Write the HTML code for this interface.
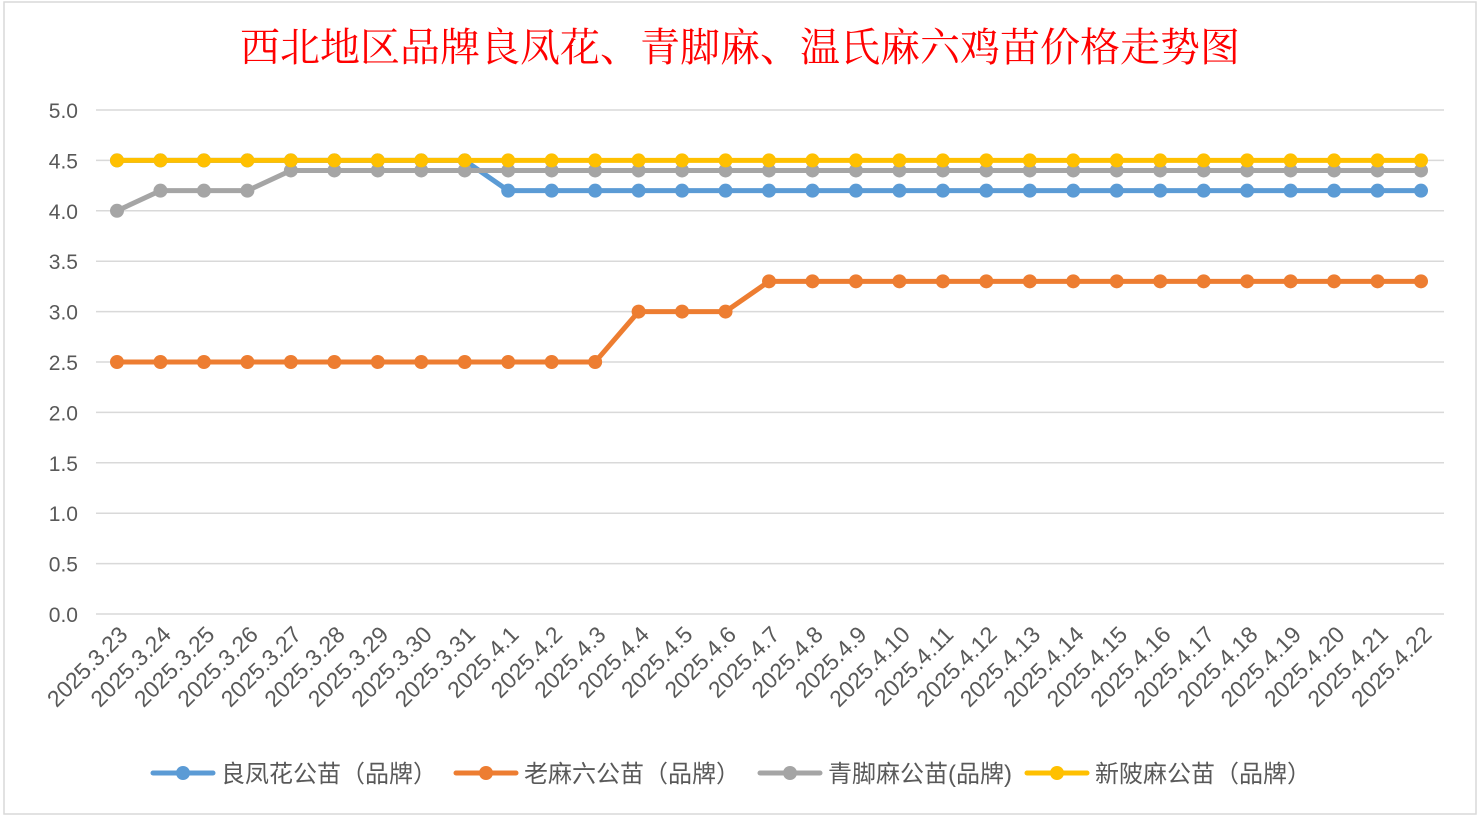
<!DOCTYPE html>
<html><head><meta charset="utf-8"><style>
body{margin:0;background:#fff;}
svg{display:block;font-family:"Liberation Sans","Noto Sans CJK SC",sans-serif;}
</style></head><body>
<svg id="c" width="1480" height="818">
<rect x="4" y="2" width="1472" height="812" fill="#fff" stroke="#d9d9d9" stroke-width="1.5"/>
<text x="740" y="61" text-anchor="middle" font-size="40" fill="#ff0000" font-family="'Noto Serif CJK SC',serif">西北地区品牌良凤花、青脚麻、温氏麻六鸡苗价格走势图</text>
<g id="grid"></g><g id="series"></g><g id="xl"></g>
<g id="legend"></g>
</svg>
<script>
const categories=["2025.3.23","2025.3.24","2025.3.25","2025.3.26","2025.3.27","2025.3.28","2025.3.29","2025.3.30","2025.3.31","2025.4.1","2025.4.2","2025.4.3","2025.4.4","2025.4.5","2025.4.6","2025.4.7","2025.4.8","2025.4.9","2025.4.10","2025.4.11","2025.4.12","2025.4.13","2025.4.14","2025.4.15","2025.4.16","2025.4.17","2025.4.18","2025.4.19","2025.4.20","2025.4.21","2025.4.22"];
const liangfenghua=[4.5,4.5,4.5,4.5,4.5,4.5,4.5,4.5,4.5,4.2,4.2,4.2,4.2,4.2,4.2,4.2,4.2,4.2,4.2,4.2,4.2,4.2,4.2,4.2,4.2,4.2,4.2,4.2,4.2,4.2,4.2];
const lamaliu=[2.5,2.5,2.5,2.5,2.5,2.5,2.5,2.5,2.5,2.5,2.5,2.5,3.0,3.0,3.0,3.3,3.3,3.3,3.3,3.3,3.3,3.3,3.3,3.3,3.3,3.3,3.3,3.3,3.3,3.3,3.3];
const qingjiaoma=[4.0,4.2,4.2,4.2,4.4,4.4,4.4,4.4,4.4,4.4,4.4,4.4,4.4,4.4,4.4,4.4,4.4,4.4,4.4,4.4,4.4,4.4,4.4,4.4,4.4,4.4,4.4,4.4,4.4,4.4,4.4];
const xinpima=[4.5,4.5,4.5,4.5,4.5,4.5,4.5,4.5,4.5,4.5,4.5,4.5,4.5,4.5,4.5,4.5,4.5,4.5,4.5,4.5,4.5,4.5,4.5,4.5,4.5,4.5,4.5,4.5,4.5,4.5,4.5];
const yTicks=["0.0","0.5","1.0","1.5","2.0","2.5","3.0","3.5","4.0","4.5","5.0"];
const seriesNames=["良凤花公苗（品牌）","老麻六公苗（品牌）","青脚麻公苗(品牌)","新陂麻公苗（品牌）"];
const NS="http://www.w3.org/2000/svg";
const X=i=>117+i*(1421-117)/(categories.length-1);
const Y=v=>614-v*(614-110)/5;
function mk(t,a,p){const e=document.createElementNS(NS,t);for(const k in a)e.setAttribute(k,a[k]);p.appendChild(e);return e;}
const g=document.getElementById('grid');
yTicks.forEach(t=>{const v=parseFloat(t);
 const l=mk('line',{x1:96,x2:1444,y1:Y(v),y2:Y(v),stroke:'#d9d9d9','stroke-width':1.5},g);
 
 
 const tx=mk('text',{x:78,y:Y(v)+8,'text-anchor':'end','font-size':21,fill:'#595959'},g);tx.textContent=t;
 
 
});
const xl=document.getElementById('xl');
categories.forEach((c,i)=>{const x=X(i)+12,y=636;
 const t=mk('text',{x:x,y:y,'text-anchor':'end','font-size':23,fill:'#595959',transform:`rotate(-45 ${x} ${y})`},xl);t.textContent=c;
 
 
});
const colors=["#5b9bd5","#ed7d31","#a5a5a5","#ffc000"];
const data=[liangfenghua,lamaliu,qingjiaoma,xinpima];
const order=[1,0,2,3];
const sg=document.getElementById('series');
order.forEach(k=>{const grp=mk('g',{},sg);
 
 
 const pts=data[k].map((v,i)=>X(i)+','+Y(v)).join(' ');
 mk('polyline',{points:pts,fill:'none',stroke:colors[k],'stroke-width':5,'stroke-linejoin':'round'},grp);
 data[k].forEach((v,i)=>{const c=mk('circle',{cx:X(i),cy:Y(v),r:7,fill:colors[k]},grp);
  
  });
});
const lg=document.getElementById('legend');
const lx=[153,456,760,1027];
seriesNames.forEach((n,k)=>{const x=lx[k],y=773;
 const e=mk('g',{},lg);
 
 
 mk('line',{x1:x,x2:x+60,y1:y,y2:y,stroke:colors[k],'stroke-width':5,'stroke-linecap':'round'},e);
 mk('circle',{cx:x+30,cy:y,r:7,fill:colors[k]},e);
 const t=mk('text',{x:x+68,y:y+9,'font-size':24,fill:'#595959'},e);t.textContent=n;
});
</script>
</body></html>
